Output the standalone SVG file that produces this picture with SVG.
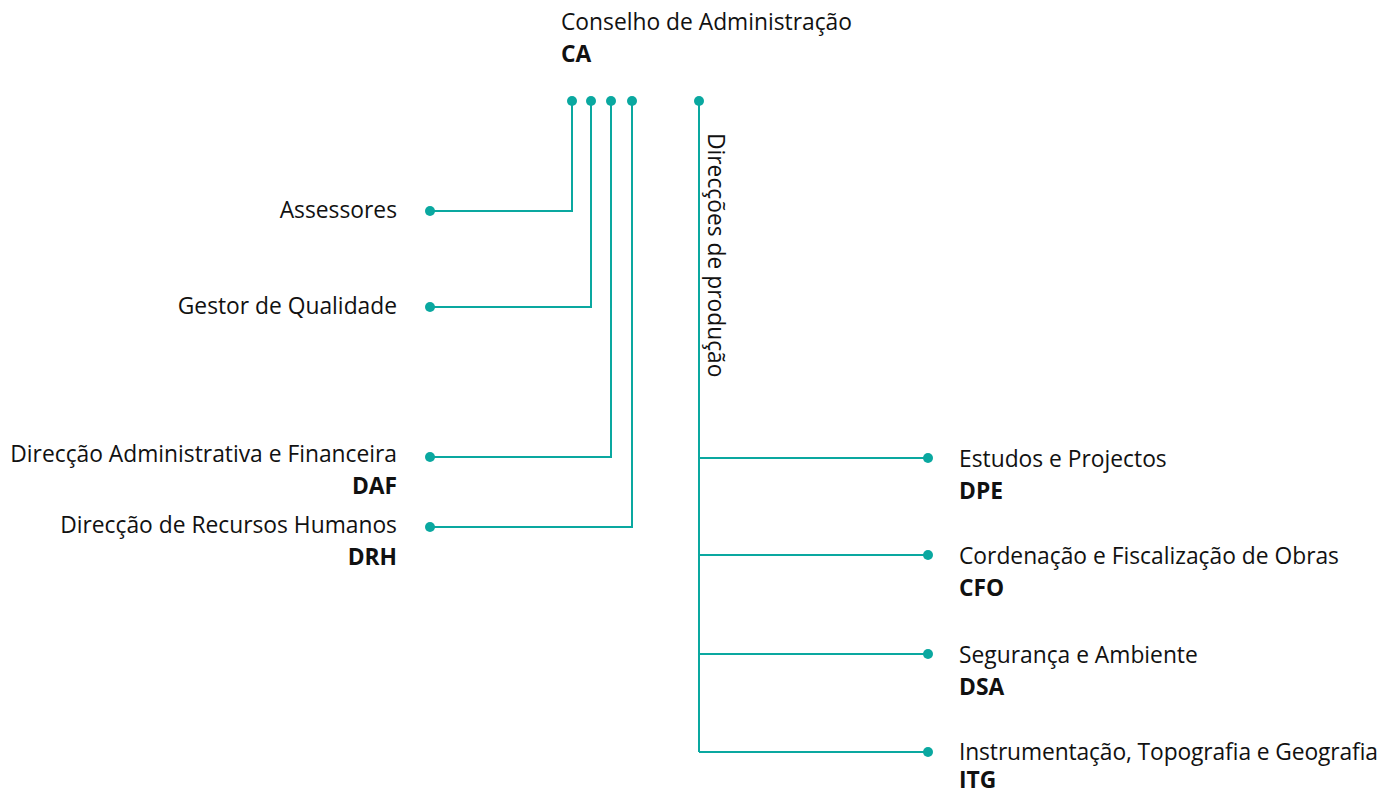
<svg xmlns="http://www.w3.org/2000/svg" width="1394" height="793" viewBox="0 0 1394 793">
<style>
.t{font-family:"Open Sans","Liberation Sans",sans-serif;font-size:22.8px;fill:#111}
.b{font-weight:bold}
.r{text-anchor:end}
.l{fill:none;stroke:#0aa8a0;stroke-width:2}
.d{fill:#0aa8a0}
</style>
<rect width="1394" height="793" fill="#fff"/>
<g id="connectors">
<path class="l" d="M572 101V211H430"/>
<path class="l" d="M591 101V307H430"/>
<path class="l" d="M611 101V457H430"/>
<path class="l" d="M632 101V527H430"/>
<path class="l" d="M699 101V752"/>
<path class="l" d="M699 458H928M699 555H928M699 654H928M699 752H928"/>
<g class="d">
<circle cx="572" cy="101" r="5"/><circle cx="591" cy="101" r="5"/><circle cx="611" cy="101" r="5"/><circle cx="632" cy="101" r="5"/><circle cx="699" cy="101" r="5"/>
<circle cx="430" cy="211" r="5"/><circle cx="430" cy="307" r="5"/><circle cx="430" cy="457" r="5"/><circle cx="430" cy="527" r="5"/>
<circle cx="928" cy="458" r="5"/><circle cx="928" cy="555" r="5"/><circle cx="928" cy="654" r="5"/><circle cx="928" cy="752" r="5"/>
</g>
</g>
<g id="ca"><text class="t" x="561" y="30">Conselho de Administração</text><text class="t b" x="561" y="62">CA</text></g>
<g id="assessores"><text class="t r" x="397" y="218">Assessores</text></g>
<g id="gestor"><text class="t r" x="397" y="314">Gestor de Qualidade</text></g>
<g id="daf"><text class="t r" x="397" y="462">Direcção Administrativa e Financeira</text><text class="t b r" x="397" y="494">DAF</text></g>
<g id="drh"><text class="t r" x="397" y="533">Direcção de Recursos Humanos</text><text class="t b r" x="397" y="565">DRH</text></g>
<g id="producao"><text class="t" transform="translate(708 133) rotate(90)">Direcções de produção</text></g>
<g id="dpe"><text class="t" x="959" y="467">Estudos e Projectos</text><text class="t b" x="959" y="499">DPE</text></g>
<g id="cfo"><text class="t" x="959" y="564">Cordenação e Fiscalização de Obras</text><text class="t b" x="959" y="596">CFO</text></g>
<g id="dsa"><text class="t" x="959" y="663">Segurança e Ambiente</text><text class="t b" x="959" y="695">DSA</text></g>
<g id="itg"><text class="t" x="959" y="760" textLength="419">Instrumentação, Topografia e Geografia</text><text class="t b" x="959" y="788">ITG</text></g>
</svg>
